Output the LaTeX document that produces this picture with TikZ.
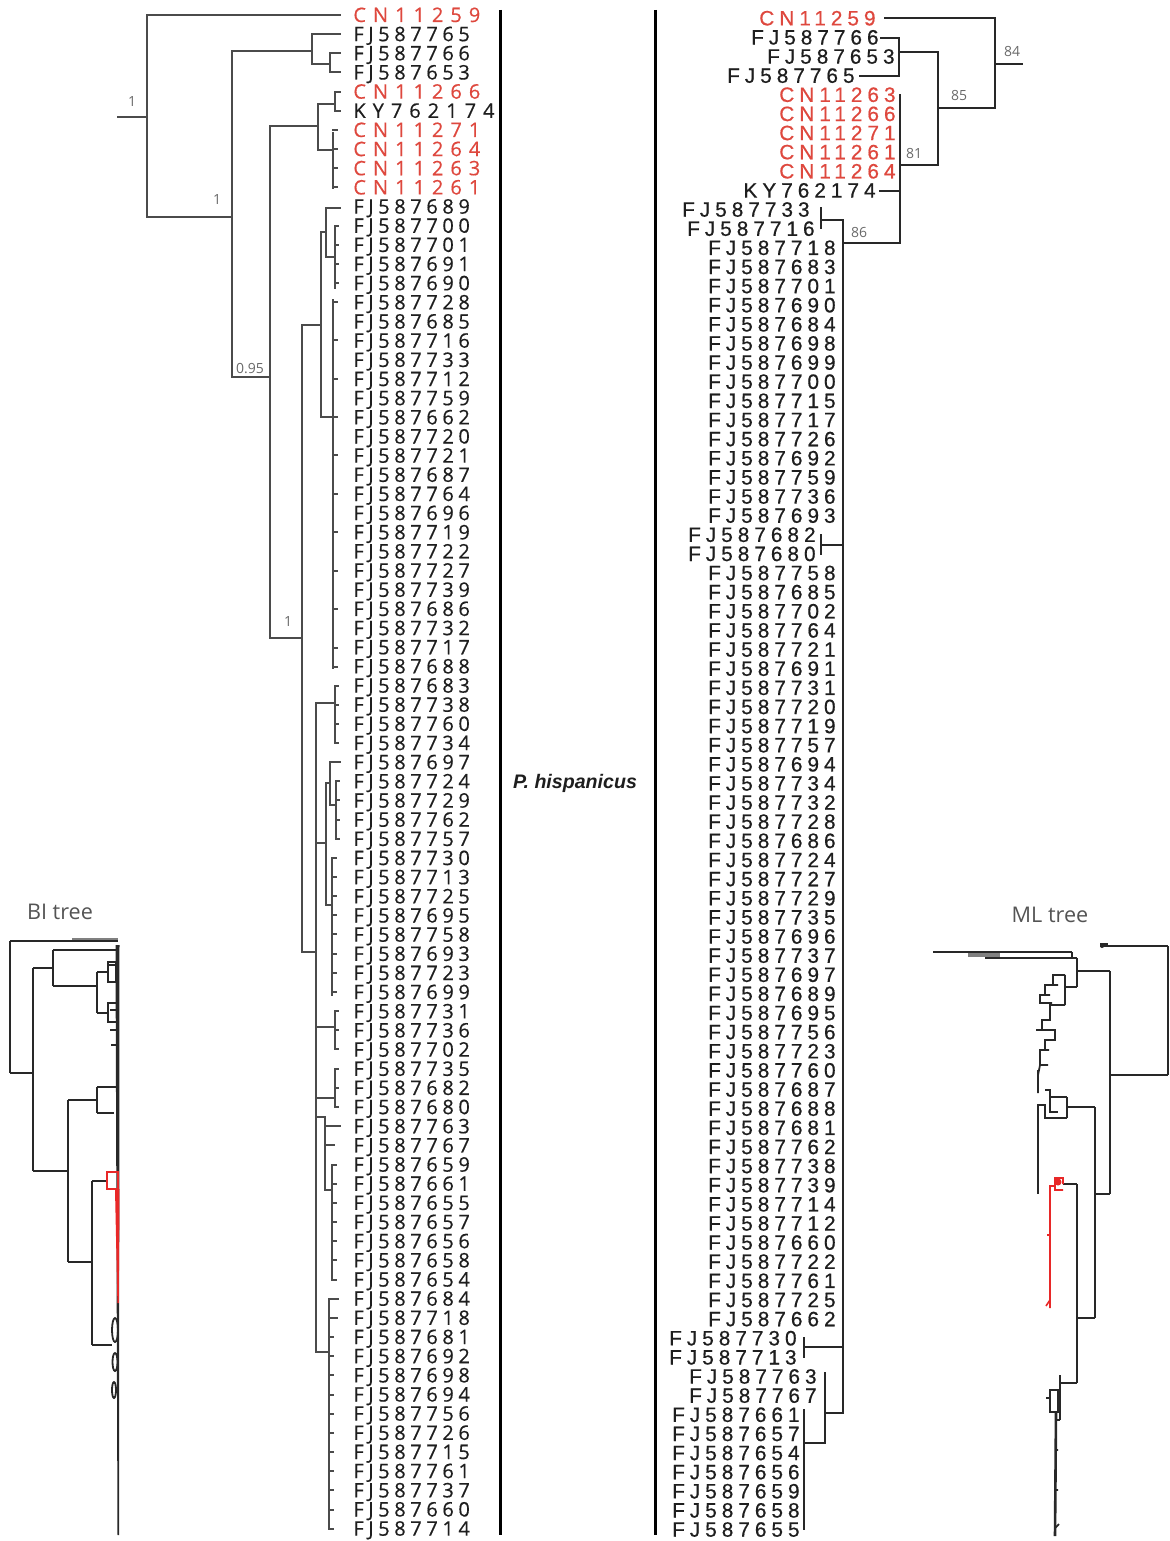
\documentclass[tikz,border=0pt]{standalone}
\usepackage{fontspec}
\setmainfont{Open Sans}
\newfontfamily\lfont[LetterSpace=23,FakeBold=0.5]{Open Sans}
\newfontfamily\lfontw[LetterSpace=35,FakeBold=0.5]{Open Sans}
\newfontfamily\rfont[LetterSpace=24,FakeBold=0.6]{Liberation Sans}
\newfontfamily\hfont{Liberation Sans}
\newfontfamily\sfont{Open Sans}
\definecolor{labred}{RGB}{222,72,62}
\definecolor{labk}{RGB}{30,30,30}
\definecolor{brc}{RGB}{75,75,75}
\definecolor{brr}{RGB}{40,40,40}
\definecolor{supc}{RGB}{105,105,105}
\definecolor{tred}{RGB}{232,40,40}
\begin{document}
\begin{tikzpicture}[x=0.5pt,y=-0.5pt,
  lab/.style={anchor=base west, inner sep=0pt, text=labk, font=\lfont\fontsize{10}{11}\selectfont},
  labW/.style={lab, font=\lfontw\fontsize{10}{11}\selectfont},
  labR/.style={labW, text=labred},
  rab/.style={anchor=base east, inner sep=0pt, text=labk, font=\rfont\fontsize{10.4}{11}\selectfont},
  rabR/.style={rab, text=labred},
  br/.style={draw=brc, line width=1pt, line cap=rect},
  brR/.style={draw=brr, line width=1pt, line cap=rect},
  sm/.style={draw=brr, line width=0.9pt},
  sup/.style={inner sep=0pt, text=supc, font=\sfont\fontsize{7}{8}\selectfont},
  ttl/.style={inner sep=0pt, text=supc!80!black, font=\sfont\fontsize{10.8}{12}\selectfont},
  sep/.style={draw=black, line width=1.5pt}]
\useasboundingbox (0,0) rectangle (1169,1541);

% ---------- separators and species name ----------
\coordinate (s1a) at (500,10); \coordinate (s1b) at (500,1535);
\coordinate (s2a) at (655,10); \coordinate (s2b) at (655,1535);
\draw[sep] (s1a) -- (s1b);
\draw[sep] (s2a) -- (s2b);
\node[inner sep=0pt, font=\hfont\bfseries\itshape\fontsize{9.8}{11}\selectfont, text=labk] (sp) at (575,783) {P. hispanicus};

% ---------- left labels (BI) ----------
\foreach \s/\n [count=\i] in {labR/CN11259, lab/FJ587765, lab/FJ587766, lab/FJ587653, labR/CN11266, labW/KY762174, labR/CN11271, labR/CN11264, labR/CN11263, labR/CN11261, lab/FJ587689, lab/FJ587700, lab/FJ587701, lab/FJ587691, lab/FJ587690, lab/FJ587728, lab/FJ587685, lab/FJ587716, lab/FJ587733, lab/FJ587712, lab/FJ587759, lab/FJ587662, lab/FJ587720, lab/FJ587721, lab/FJ587687, lab/FJ587764, lab/FJ587696, lab/FJ587719, lab/FJ587722, lab/FJ587727, lab/FJ587739, lab/FJ587686, lab/FJ587732, lab/FJ587717, lab/FJ587688, lab/FJ587683, lab/FJ587738, lab/FJ587760, lab/FJ587734, lab/FJ587697, lab/FJ587724, lab/FJ587729, lab/FJ587762, lab/FJ587757, lab/FJ587730, lab/FJ587713, lab/FJ587725, lab/FJ587695, lab/FJ587758, lab/FJ587693, lab/FJ587723, lab/FJ587699, lab/FJ587731, lab/FJ587736, lab/FJ587702, lab/FJ587735, lab/FJ587682, lab/FJ587680, lab/FJ587763, lab/FJ587767, lab/FJ587659, lab/FJ587661, lab/FJ587655, lab/FJ587657, lab/FJ587656, lab/FJ587658, lab/FJ587654, lab/FJ587684, lab/FJ587718, lab/FJ587681, lab/FJ587692, lab/FJ587698, lab/FJ587694, lab/FJ587756, lab/FJ587726, lab/FJ587715, lab/FJ587761, lab/FJ587737, lab/FJ587660, lab/FJ587714}
  { \node[\s] (L\i) at (353,{15+(\i-1)*19.16+7}) {\n}; }

% ---------- right labels (ML) ----------
\foreach \s/\n/\x [count=\i] in {rabR/CN11259/876, rab/FJ587766/879, rab/FJ587653/895, rab/FJ587765/855, rabR/CN11263/896, rabR/CN11266/896, rabR/CN11271/896, rabR/CN11261/896, rabR/CN11264/896, rab/KY762174/876, rab/FJ587733/810, rab/FJ587716/815, rab/FJ587718/836, rab/FJ587683/836, rab/FJ587701/836, rab/FJ587690/836, rab/FJ587684/836, rab/FJ587698/836, rab/FJ587699/836, rab/FJ587700/836, rab/FJ587715/836, rab/FJ587717/836, rab/FJ587726/836, rab/FJ587692/836, rab/FJ587759/836, rab/FJ587736/836, rab/FJ587693/836, rab/FJ587682/816, rab/FJ587680/816, rab/FJ587758/836, rab/FJ587685/836, rab/FJ587702/836, rab/FJ587764/836, rab/FJ587721/836, rab/FJ587691/836, rab/FJ587731/836, rab/FJ587720/836, rab/FJ587719/836, rab/FJ587757/836, rab/FJ587694/836, rab/FJ587734/836, rab/FJ587732/836, rab/FJ587728/836, rab/FJ587686/836, rab/FJ587724/836, rab/FJ587727/836, rab/FJ587729/836, rab/FJ587735/836, rab/FJ587696/836, rab/FJ587737/836, rab/FJ587697/836, rab/FJ587689/836, rab/FJ587695/836, rab/FJ587756/836, rab/FJ587723/836, rab/FJ587760/836, rab/FJ587687/836, rab/FJ587688/836, rab/FJ587681/836, rab/FJ587762/836, rab/FJ587738/836, rab/FJ587739/836, rab/FJ587714/836, rab/FJ587712/836, rab/FJ587660/836, rab/FJ587722/836, rab/FJ587761/836, rab/FJ587725/836, rab/FJ587662/836, rab/FJ587730/797, rab/FJ587713/797, rab/FJ587763/817, rab/FJ587767/817, rab/FJ587661/800, rab/FJ587657/800, rab/FJ587654/800, rab/FJ587656/800, rab/FJ587659/800, rab/FJ587658/800, rab/FJ587655/800}
  { \node[\s] (R\i) at (\x,{18+(\i-1)*19.13+7.4}) {\n}; }

% ---------- left tree branches ----------
\draw[br]
 (118,117)--(147,117)
 (147,15)--(147,217)
 (147,15)--(340,15)
 (147,217)--(232,217)
 (232,51)--(232,377)
 (232,51)--(312,51)
 (312,34)--(312,64)
 (312,34)--(340,34)
 (312,64)--(330,64)
 (330,53)--(330,72)
 (330,53)--(340,53) (330,72)--(340,72)
 (232,377)--(270,377)
 (270,126)--(270,638)
 (270,126)--(318,126)
 (318,104)--(318,150)
 (318,104)--(335,104)
 (335,92)--(335,111)
 (335,92)--(340,92) (335,111)--(340,111)
 (318,150)--(333,150)
 (333,133)--(333,188)
 (270,638)--(302,638)
 (302,325)--(302,952)
 (302,325)--(321,325)
 (321,232)--(321,417)
 (321,232)--(326,232)
 (326,208)--(326,257)
 (326,208)--(340,208)
 (326,257)--(335,257)
 (335,226)--(335,288)
 (321,417)--(333,417)
 (333,300)--(333,668)
 (302,952)--(316,952)
 (316,703)--(316,1352)
 (316,703)--(335,703)
 (335,686)--(335,743)
 (316,843)--(326,843)
 (326,783)--(326,905)
 (326,783)--(330,783)
 (330,762)--(330,805)
 (330,762)--(340,762)
 (330,805)--(336,805)
 (336,781)--(336,839)
 (326,905)--(332,905)
 (332,858)--(332,995)
 (316,1027)--(335,1027)
 (335,1011)--(335,1049)
 (316,1098)--(335,1098)
 (335,1069)--(335,1107)
 (316,1117)--(325,1117)
 (325,1117)--(325,1190)
 (325,1126)--(340,1126)
 (325,1145)--(334,1145)
 (325,1190)--(332,1190)
 (332,1165)--(332,1280)
 (316,1352)--(329,1352)
 (329,1299)--(329,1529)
 (329,1299)--(338,1299) (329,1318)--(337,1318);
% small tip ticks in the left clusters
\foreach \yy in {130,149,168,187} \draw[br, line width=0.7pt] (333,\yy)--(337,\yy);
\foreach \yy in {226,245,264,283} \draw[br, line width=0.7pt] (335,\yy)--(338,\yy);
\foreach \yy in {302,340,379,417,455,494,532,571,609,648,667} \draw[br, line width=0.7pt] (333,\yy)--(337,\yy);
\foreach \yy in {686,705,724,743} \draw[br, line width=0.7pt] (335,\yy)--(338,\yy);
\foreach \yy in {781,800,820,839} \draw[br, line width=0.7pt] (336,\yy)--(339,\yy);
\foreach \yy in {858,877,896,915,934,954,973,992} \draw[br, line width=0.7pt] (332,\yy)--(336,\yy);
\foreach \yy in {1011,1030,1049,1069,1088,1107} \draw[br, line width=0.7pt] (335,\yy)--(338,\yy);
\foreach \yy in {1165,1184,1203,1222,1241,1260,1280} \draw[br, line width=0.7pt] (332,\yy)--(336,\yy);
\foreach \yy in {1337,1356,1375,1395,1414,1433,1452,1471,1490,1510,1529} \draw[br, line width=0.7pt] (329,\yy)--(333,\yy);

% ---------- right tree branches ----------
\draw[brR]
 (885,18)--(995,18)
 (995,18)--(995,108)
 (995,64)--(1022,64)
 (938,108)--(995,108)
 (938,52)--(938,165)
 (899,52)--(938,52)
 (899,38)--(899,76)
 (881,38)--(899,38)
 (860,76)--(899,76)
 (900,165)--(938,165)
 (900,95)--(900,243)
 (880,191)--(900,191)
 (843,243)--(900,243)
 (843,220)--(843,1413)
 (821,220)--(843,220)
 (821,208)--(821,228)
 (821,535)--(821,554)
 (821,545)--(843,545)
 (804,1338)--(804,1357)
 (804,1347)--(843,1347)
 (825,1413)--(843,1413)
 (825,1373)--(825,1443)
 (804,1443)--(825,1443)
 (804,1410)--(804,1529);

% ---------- support values ----------
\node[sup] (s1) at (132,102) {1};
\node[sup] (s2) at (217,200) {1};
\node[sup] (s3) at (250,369) {0.95};
\node[sup] (s4) at (288,621) {1};
\node[sup] (s5) at (1012,52) {84};
\node[sup] (s6) at (959,96) {85};
\node[sup] (s7) at (914,153) {81};
\node[sup] (s8) at (859,232) {86};

% ---------- small BI tree ----------
\node[ttl] (bit) at (60,912) {BI tree};
\draw[line width=1.2pt, gray] (72,939)--(118,939);
\draw[sm]
 (10,941)--(10,1073)
 (10,941)--(118,941)
 (10,1073)--(33,1073)
 (33,968)--(33,1171)
 (33,968)--(53,968)
 (53,950)--(53,986)
 (53,950)--(117,950)
 (53,986)--(97,986)
 (97,972)--(97,1013)
 (97,972)--(108,972)
 (97,1013)--(108,1013)
 (33,1171)--(68,1171)
 (68,1100)--(68,1262)
 (68,1100)--(97,1100)
 (97,1087)--(97,1113)
 (97,1087)--(117,1087)
 (97,1113)--(114,1113)
 (68,1262)--(92,1262)
 (92,1181)--(92,1345)
 (92,1181)--(107,1181)
 (92,1345)--(112,1345);
\draw[sm] (108,962) rectangle (116,982) (108,1003) rectangle (117,1022) (110,1030)--(118,1030) (111,1045)--(118,1045);
\draw[sm] (108,965)--(118,965) (110,1010)--(118,1010);
\fill[brr] (115.5,945)--(119.5,945)--(119,1535)--(117.5,1535)--cycle;
\draw[sm] (115,1330) ellipse (3 and 12) (115,1362) ellipse (2.5 and 9) (114,1390) ellipse (2 and 8);
\draw[tred, line width=0.8pt] (107,1172) rectangle (118,1189);
\fill[tred] (115,1189)--(119.5,1189)--(118.8,1303)--(117.4,1303)--cycle;

% ---------- small ML tree ----------
\node[ttl] (mlt) at (1050,915) {ML tree};
\draw[sm]
 (1100,946)--(1168,946)
 (1168,946)--(1168,1075)
 (1110,1075)--(1168,1075)
 (1110,971)--(1110,1194)
 (1077,971)--(1110,971)
 (1077,958)--(1077,987)
 (933,952)--(1072,952)
 (1072,952)--(1072,958)
 (985,958)--(1077,958)
 (1065,987)--(1077,987)
 (1065,975)--(1065,1005)
 (1095,1194)--(1110,1194)
 (1095,1107)--(1095,1318)
 (1067,1107)--(1095,1107)
 (1067,1097)--(1067,1118)
 (1077,1318)--(1095,1318)
 (1077,1184)--(1077,1383)
 (1063,1184)--(1077,1184)
 (1060,1383)--(1077,1383);
\draw[line width=2pt, gray] (968,955)--(1000,955);
\draw[sm] (1100,944)--(1108,944);
\fill[brr] (1102,946) circle (2);
\draw[sm] (1065,975)--(1053,975)--(1053,985)--(1045,985)--(1045,995)--(1040,995)--(1040,1003)--(1052,1003)
 (1065,1005)--(1050,1005)--(1050,1020)--(1042,1020)--(1042,1030)--(1055,1030)--(1055,1040)--(1045,1040)--(1045,1050)--(1040,1050)--(1040,1065)--(1048,1065)
 (1040,1065)--(1038,1075)--(1038,1093)
 (1053,985)--(1058,985) (1045,995)--(1050,995) (1042,1030)--(1036,1030) (1045,1050)--(1049,1050);
\draw[line width=1.2pt, brr] (1038,1070)--(1038,1093);
\draw[sm] (1067,1097)--(1050,1097)--(1050,1090)--(1045,1090)
 (1067,1118)--(1045,1118)--(1045,1105)--(1038,1105)--(1038,1194)
 (1050,1097)--(1050,1112)--(1058,1112);
\draw[line width=1.2pt, brr] (1038,1118)--(1038,1194);
\draw[tred, line width=0.8pt] (1063,1184)--(1063,1178)--(1055,1178)--(1055,1190)--(1063,1190)
 (1055,1186)--(1050,1186)--(1050,1308)
 (1050,1235)--(1047,1235) (1050,1300)--(1046,1306);
\fill[tred] (1058,1182) circle (3.5);
\draw[line width=1.2pt, tred] (1050,1190)--(1050,1305);
\draw[sm] (1060,1375)--(1060,1420)
 (1050,1390) rectangle (1058,1412)
 (1046,1398)--(1050,1398)
 (1060,1420)--(1055,1420);
\draw[line width=1.3pt, brr] (1056,1412)--(1055,1536);
\draw[sm] (1055,1450)--(1058,1450) (1055,1490)--(1058,1490) (1055,1528)--(1059,1524);
\end{tikzpicture}
\end{document}
